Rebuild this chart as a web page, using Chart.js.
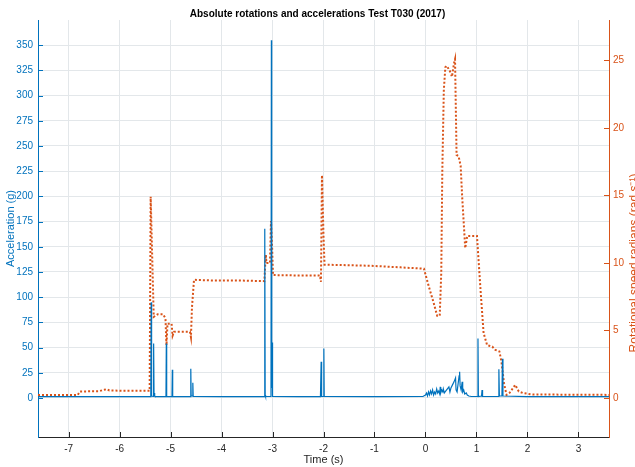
<!DOCTYPE html>
<html>
<head>
<meta charset="utf-8">
<script src="https://cdn.jsdelivr.net/npm/chart.js@4/dist/chart.umd.min.js"></script>
<style>
  body { margin: 0; background: #fff; overflow: hidden; }
</style>
</head>
<body>
<canvas id="chart" width="635" height="467"></canvas>
<script>
const titleText = 'Absolute rotations and accelerations Test T030 (2017)'
const xLabel = 'Time (s)'
const leftLabel = 'Acceleration (g)'
const rightLabel = 'Rotational speed radians (rad s\u207B\u00B9)'

const timeTicks = [-7, -6, -5, -4, -3, -2, -1, 0, 1, 2, 3]
const accelTicks = [0, 25, 50, 75, 100, 125, 150, 175, 200, 225, 250, 275, 300, 325, 350]
const rotTicks = [0, 5, 10, 15, 20, 25]

// acceleration (g), blue trace
const accelTime = [-7.6, -6.8, -6.0, -5.40, -5.388, -5.38, -5.372, -5.34, -5.332, -5.324, -5.315, -5.308, -5.30,
  -5.09, -5.083, -5.076, -4.972, -4.965, -4.958, -4.61, -4.603, -4.596, -4.570, -4.563, -4.556, -4.0,
  -3.16, -3.152, -3.144, -3.136, -3.03, -3.022, -3.016, -3.010, -3.003, -2.996, -2.5,
  -2.06, -2.046, -2.04, -2.034, -2.0, -1.993, -1.986, -1.0, -0.05,
  0.0, 0.02, 0.04, 0.06, 0.08, 0.10, 0.12, 0.14, 0.16, 0.18, 0.20, 0.22, 0.24, 0.26, 0.28, 0.29, 0.30,
  0.32, 0.34, 0.35, 0.37, 0.40, 0.43, 0.46, 0.48, 0.50, 0.53, 0.56, 0.59, 0.60, 0.62, 0.64, 0.66, 0.67,
  0.68, 0.70, 0.72, 0.73, 0.75, 0.77, 0.80, 0.82, 0.85, 0.90,
  1.022, 1.03, 1.038, 1.10, 1.11, 1.12, 1.43, 1.44, 1.45, 1.50, 1.51, 1.52, 2.0, 3.6]
const accelValues = [1.3, 1.3, 1.3, 1.3, 1.5, 95, 2, 1.5, 54, 3, 5, 2, 1.3,
  1.3, 54, 1.5, 1.3, 28, 1.5, 1.3, 29, 2, 2, 15, 1.5, 1.3,
  1.3, 168, 3, 1.5, 1.5, 355, 10, 55, 3, 1.5, 1.3,
  1.3, 36, 4, 1.5, 1.5, 49, 1.5, 1.3, 1.5,
  3, 5, 2, 6, 3, 7, 4, 8, 3, 6, 4, 9, 5, 7, 4, 11, 5,
  8, 6, 9, 5, 7, 9, 11, 6, 10, 13, 16, 20, 8, 6, 14, 22, 26,
  12, 8, 16, 6, 8, 4, 5, 3, 2, 1.5,
  1.5, 59, 1.5, 2, 8, 1.5, 1.5, 28.5, 2, 2, 39, 2, 1.3, 1.3]

// rotational speed (rad/s), orange dotted trace
const rotTime = [-7.6, -6.82, -6.78, -6.4, -6.3, -6.25, -6.2, -5.9, -5.41, -5.39, -5.33, -5.25, -5.15, -5.10,
  -5.08, -5.06, -4.98, -4.96, -4.93, -4.62, -4.60, -4.58, -4.54, -4.2, -3.7, -3.16, -3.14, -3.13,
  -3.12, -3.05, -3.03, -3.01, -3.0, -2.99, -2.5, -2.07, -2.05, -2.03, -2.0, -1.98, -1.08, -0.49,
  -0.03, 0.065, 0.16, 0.23, 0.28, 0.31, 0.33, 0.36, 0.39, 0.42, 0.48, 0.52, 0.56, 0.58, 0.61,
  0.65, 0.69, 0.72, 0.78, 0.82, 0.92, 1.01, 1.08, 1.14, 1.21, 1.31, 1.37, 1.45, 1.49, 1.54,
  1.59, 1.65, 1.76, 1.83, 1.92, 2.1, 3.6]
const rotValues = [0.22, 0.22, 0.47, 0.5, 0.6, 0.65, 0.55, 0.52, 0.52, 14.9, 6.0, 6.2, 6.2, 5.9,
  3.9, 5.5, 5.5, 4.6, 4.9, 4.9, 4.5, 6.7, 8.75, 8.7, 8.7, 8.65, 10.1, 10.6,
  10.0, 10.0, 13.1, 11.4, 10.2, 9.1, 9.07, 9.07, 8.6, 16.5, 12, 9.87, 9.79, 9.67,
  9.57, 8.26, 7.05, 6.08, 6.08, 9.3, 16.7, 22.8, 24.5, 24.6, 24.2, 23.8, 24.8, 25.1, 18.0,
  17.9, 17.2, 14.9, 11.1, 12.0, 12.0, 12.0, 8.0, 4.8, 3.9, 3.8, 3.56, 3.44, 2.7, 1.09,
  0.22, 0.37, 0.96, 0.47, 0.35, 0.25, 0.22]

const blue = '#0072BD'
const orange = '#D95319'
const dark = '#262626'
const gridColor = '#e3e7ea'
const font = '"Liberation Sans", Arial, sans-serif'

function fixTicks(values) {
    return scale => { scale.ticks = values.map(v => ({ value: v })) }
}

const rightTitle = {
    id: 'rightTitle',
    afterDraw(chart) {
        const ctx = chart.ctx
        ctx.save()
        ctx.translate(629, 263)
        ctx.rotate(-Math.PI / 2)
        ctx.font = '12px ' + font
        ctx.fillStyle = orange
        ctx.textAlign = 'center'
        ctx.textBaseline = 'top'
        ctx.fillText(rightLabel, 0, 0)
        ctx.restore()
    }
}

// matlab style ticks pointing into the plot
const innerTicks = {
    id: 'innerTicks',
    afterDatasetsDraw(chart) {
        const { ctx, chartArea: a, scales } = chart
        ctx.save()
        ctx.lineWidth = 1
        const seg = (x1, y1, x2, y2, c) => {
            ctx.strokeStyle = c
            ctx.beginPath(); ctx.moveTo(x1, y1); ctx.lineTo(x2, y2); ctx.stroke()
        }
        timeTicks.forEach(v => {
            const x = Math.round(scales.x.getPixelForValue(v)) + 0.5
            seg(x, a.bottom, x, a.bottom - 5, dark)
        })
        accelTicks.forEach(v => {
            const y = Math.round(scales.y.getPixelForValue(v)) + 0.5
            seg(a.left, y, a.left + 5, y, blue)
        })
        rotTicks.forEach(v => {
            const y = Math.round(scales.y1.getPixelForValue(v)) + 0.5
            seg(a.right, y, a.right - 5, y, orange)
        })
        ctx.restore()
    }
}

new Chart(document.getElementById('chart'), {
    type: 'scatter',
    data: {
        datasets: [
            {
                label: 'Acceleration',
                data: accelTime.map((t, i) => ({ x: t, y: accelValues[i] })),
                yAxisID: 'y',
                showLine: true,
                borderColor: blue,
                borderWidth: 1.2,
                pointRadius: 0,
                order: 1
            },
            {
                label: 'Rotational speed',
                data: rotTime.map((t, i) => ({ x: t, y: rotValues[i] })),
                yAxisID: 'y1',
                showLine: true,
                borderColor: orange,
                borderWidth: 2,
                borderDash: [2, 2],
                pointRadius: 0,
                order: 2
            }
        ]
    },
    options: {
        responsive: false,
        animation: false,
        layout: { padding: 0 },
        plugins: {
            legend: { display: false },
            tooltip: { enabled: false },
            title: {
                display: true,
                text: titleText,
                color: '#000',
                font: { family: font, size: 10, weight: 'bold' },
                padding: { top: 8, bottom: 0 }
            }
        },
        scales: {
            x: {
                type: 'linear',
                min: -7.6,
                max: 3.6,
                afterBuildTicks: fixTicks(timeTicks),
                afterFit: s => { s.height = 30 },
                grid: { color: gridColor, drawTicks: false },
                border: { color: dark },
                ticks: { color: dark, padding: 6, font: { family: font, size: 10 } },
                title: { display: true, text: xLabel, color: dark, font: { family: font, size: 11 }, padding: { top: 2, bottom: 0 } }
            },
            y: {
                position: 'left',
                min: -38.7,
                max: 375,
                afterBuildTicks: fixTicks(accelTicks),
                afterFit: s => { s.width = 38 },
                grid: { color: gridColor, drawTicks: false },
                border: { color: blue },
                ticks: { color: blue, padding: 5, font: { family: font, size: 10 } },
                title: { display: true, text: leftLabel, color: blue, font: { family: font, size: 11 }, padding: { top: 4, bottom: 0 } }
            },
            y1: {
                position: 'right',
                min: -2.9,
                max: 28,
                afterBuildTicks: fixTicks(rotTicks),
                afterFit: s => { s.width = 26 },
                grid: { drawOnChartArea: false, drawTicks: false },
                border: { color: orange },
                ticks: { color: orange, padding: 4, font: { family: font, size: 10 } }
            }
        }
    },
    plugins: [rightTitle, innerTicks]
})
</script>
</body>
</html>
